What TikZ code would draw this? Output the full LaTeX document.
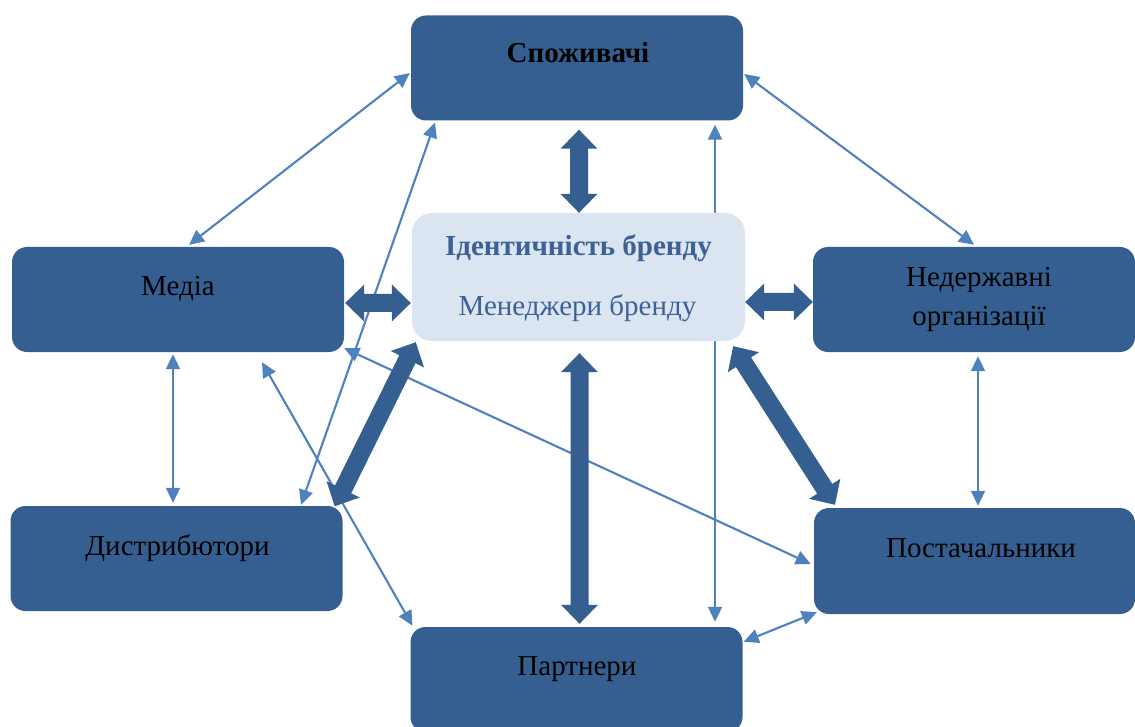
\documentclass[tikz,border=0pt]{standalone}
\usepackage{fontspec}
\setmainfont{Liberation Serif}
\usetikzlibrary{calc,arrows.meta,backgrounds}
\definecolor{boxblue}{HTML}{365F91}
\definecolor{lineblue}{HTML}{4F81BD}
\definecolor{identfill}{HTML}{DBE5F1}
\definecolor{identtext}{HTML}{3D6196}
\newcommand{\blockarr}[2]{%
  \fill[boxblue] (#1) -- ($(#1)!19pt!(#2)!18.5pt!90:(#2)$) -- ($(#1)!19pt!(#2)!9pt!90:(#2)$)
   -- ($(#2)!19pt!(#1)!9pt!-90:(#1)$) -- ($(#2)!19pt!(#1)!18.5pt!-90:(#1)$) -- (#2)
   -- ($(#2)!19pt!(#1)!18.5pt!90:(#1)$) -- ($(#2)!19pt!(#1)!9pt!90:(#1)$)
   -- ($(#1)!19pt!(#2)!9pt!-90:(#2)$) -- ($(#1)!19pt!(#2)!18.5pt!-90:(#2)$) -- cycle;}
\begin{document}
\begin{tikzpicture}[x=1pt,y=1pt,
  box/.style={fill=boxblue, rounded corners=15pt, inner sep=0pt, minimum width=332pt, minimum height=105pt},
  lbl/.style={anchor=base, font=\fontsize{29}{34}\selectfont, text=black, inner sep=0pt},
  thin/.style={draw=lineblue, line width=2.1pt, {Triangle[length=15pt,width=14pt]}-{Triangle[length=15pt,width=14pt]}},
]
\useasboundingbox (0,0) rectangle (1135,-727);

% boxes
\node[box] (cons) at (577,-68) {};
\node[box, fill=identfill, minimum width=333pt, minimum height=128pt, rounded corners=20pt] (ident) at (578.5,-277) {};
\node[box] (media) at (178,-299.5) {};
\node[box, minimum width=322pt] (ngo) at (974,-299.5) {};
\node[box] (dist) at (176.5,-558.5) {};
\node[box, minimum width=321pt, minimum height=106pt] (post) at (974.5,-561) {};
\node[box] (part) at (576.5,-679.5) {};

% labels
\node[lbl, font=\fontsize{29}{34}\selectfont\bfseries] (tcons) at (578,-63) {Споживачі};
\node[lbl, font=\fontsize{29}{34}\selectfont\bfseries, text=identtext] (tident) at (578.5,-256) {Ідентичність бренду};
\node[lbl, text=identtext] (tman) at (577.5,-316) {Менеджери бренду};
\node[lbl] (tmedia) at (178,-296) {Медіа};
\node[lbl] (tngo1) at (979,-287) {Недержавні};
\node[lbl] (tngo2) at (979,-326) {організації};
\node[lbl] (tdist) at (177.5,-555) {Дистрибютори};
\node[lbl] (tpost) at (981,-557) {Постачальники};
\node[lbl] (tpart) at (577,-675) {Партнери};

% thin connectors (below boxes)
\begin{scope}[on background layer]
\draw[thin] ([shift={(-1,-5)}]cons.west) -- ([shift={(11,2)}]media.north);
\draw[thin] ([shift={(1,-6)}]cons.east) -- ([yshift=2]ngo.north);
\draw[thin] ([shift={(-5,-2)}]media.south) -- ([shift={(-3.5,3)}]dist.north);
\draw[thin] ([shift={(4,-4)}]ngo.south) -- ([shift={(3.5,2)}]post.north);
\draw[thin] ([shift={(124.5,1)}]dist.north) -- ([shift={(-142,-2)}]cons.south);
\draw[thin] ([shift={(84,-10)}]media.south) -- ([shift={(-164,1)}]part.north);
\draw[thin] ([shift={(0,4)}]media.south east) -- ([shift={(-3,-3)}]post.west);
\draw[thin] ([shift={(138,-4)}]cons.south) -- ([shift={(138.5,5)}]part.north);
\draw[thin] ([shift={(1,-15)}]part.north east) -- ([shift={(3,2)}]post.south west);
\end{scope}

% thick block arrows
\coordinate (t1a) at ([shift={(2,-9)}]cons.south);
\coordinate (t1b) at ([xshift=0.5]ident.north);
\coordinate (t2a) at ([shift={(1,-3.5)}]media.east);
\coordinate (t2b) at ([shift={(-1,-26)}]ident.west);
\coordinate (t3a) at ([shift={(0,-25)}]ident.east);
\coordinate (t3b) at ([yshift=-2.5]ngo.west);
\coordinate (t4a) at ([shift={(1,-12)}]ident.south);
\coordinate (t4b) at ([shift={(3,3)}]part.north);
\coordinate (t5a) at ([shift={(4,-1)}]ident.south west);
\coordinate (t5b) at ([shift={(-8,-0.5)}]dist.north east);
\coordinate (t6a) at ([shift={(-12,-5)}]ident.south east);
\coordinate (t6b) at ([shift={(-139.5,3)}]post.north);
\blockarr{t1a}{t1b}
\blockarr{t2a}{t2b}
\blockarr{t3a}{t3b}
\blockarr{t4a}{t4b}
\blockarr{t5a}{t5b}
\blockarr{t6a}{t6b}
\end{tikzpicture}
\end{document}
